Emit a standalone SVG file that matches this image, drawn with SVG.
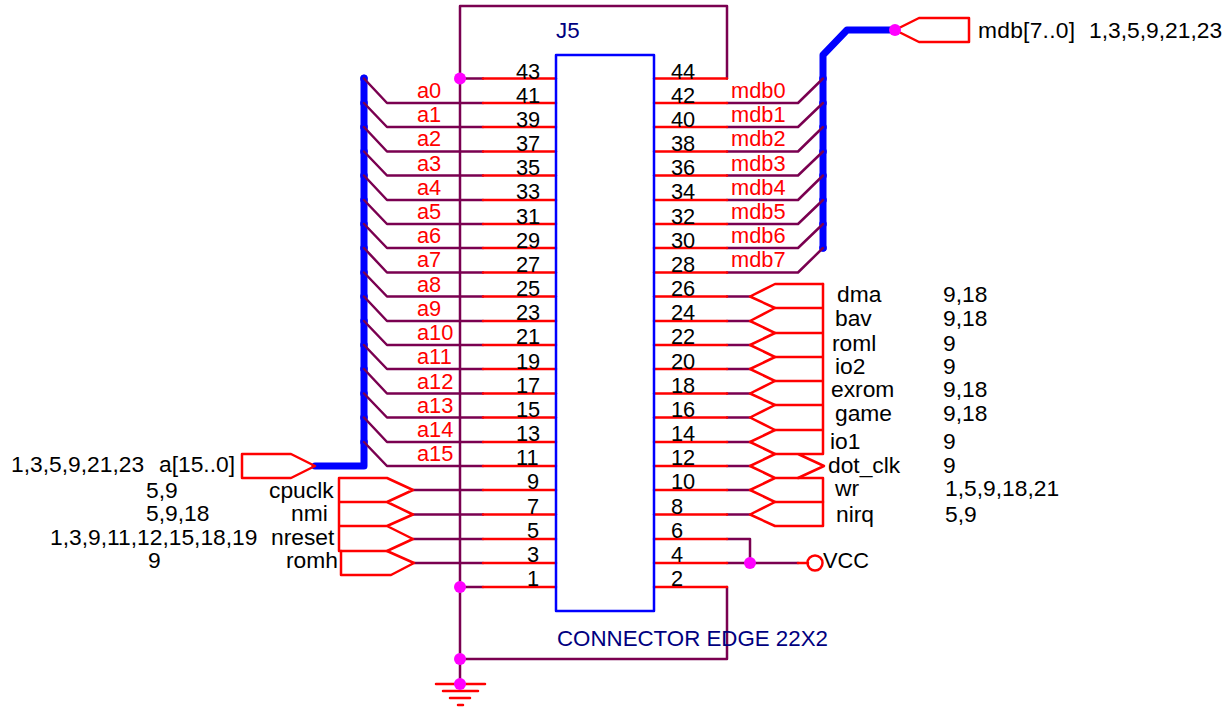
<svg xmlns="http://www.w3.org/2000/svg" width="1225" height="719" viewBox="0 0 1225 719">
<style>
text{font-family:"Liberation Sans",Arial,sans-serif;font-size:22.800px;fill:#000}
.p{font-size:21.800px}
.r{fill:#f00;font-size:21.800px}.n{fill:#000080;font-size:22.300px}
.v{font-size:21.800px}
.w,.re,.b,.bus,.tap{fill:none;stroke-linecap:round;stroke-linejoin:round}
.w{stroke:#7a0050;stroke-width:2.500}
.re{stroke:#f00;stroke-width:2.500}
.b{stroke:#00f;stroke-width:2.500;stroke-linecap:square}
.bus{stroke:#00f;stroke-width:7}
.tap{stroke:#00f;stroke-width:7.600}
.d{fill:#f0f}
</style>
<rect width="1225" height="719" fill="#fff"/>
<g id="connectors">
<path class="bus" d="M364 78V466H315"/>
<path class="bus" d="M823 248V55L847 30H895"/>
<path class="tap" d="M364 78.500h0M364 103h0M364 127h0M364 151.500h0M364 175.500h0M364 200h0M364 224h0M364 248h0M364 272.500h0M364 296.500h0M364 321h0M364 345h0M364 369h0M364 393.500h0M364 417.500h0M364 442h0M823 78.500h0M823 103h0M823 127h0M823 151.500h0M823 175.500h0M823 200h0M823 224h0M823 248h0"/>
<path class="w" d="M460 6H727V78.500M460 6V684M460 78.500H483M460 587H483M727 587V659H460M727 539H750V563M727 563H798"/>
<path class="w" d="M364 78.500L387 103H483M364 103L387 127H483M364 127L387 151.500H483M364 151.500L387 175.500H483M364 175.500L387 200H483M364 200L387 224H483M364 224L387 248H483M364 248L387 272.500H483M364 272.500L387 296.500H483M364 296.500L387 321H483M364 321L387 345H483M364 345L387 369H483M364 369L387 393.500H483M364 393.500L387 417.500H483M364 417.500L387 442H483M364 442L387 466H483"/>
<path class="w" d="M413 490H483M413 514.500H483M413 539H483M414 563H483"/>
<path class="w" d="M823 78.500L798 103H727M823 103L798 127H727M823 127L798 151.500H727M823 151.500L798 175.500H727M823 175.500L798 200H727M823 200L798 224H727M823 224L798 248H727M823 248L798 272.500H727"/>
<path class="w" d="M727 296.500H750M727 321H750M727 345H750M727 369H750M727 393.500H750M727 417.500H750M727 442H750M727 466H750M727 490H750M727 514.500H750"/>
<path class="re" d="M483 78.500H556M483 103H556M483 127H556M483 151.500H556M483 175.500H556M483 200H556M483 224H556M483 248H556M483 272.500H556M483 296.500H556M483 321H556M483 345H556M483 369H556M483 393.500H556M483 417.500H556M483 442H556M483 466H556M483 490H556M483 514.500H556M483 539H556M483 563H556M483 587H556"/>
<path class="re" d="M654 78.500H727M654 103H727M654 127H727M654 151.500H727M654 175.500H727M654 200H727M654 224H727M654 248H727M654 272.500H727M654 296.500H727M654 321H727M654 345H727M654 369H727M654 393.500H727M654 417.500H727M654 442H727M654 466H727M654 490H727M654 514.500H727M654 539H727M654 563H727M654 587H727"/>
<path class="re" d="M798 563H808"/>
</g>
<g id="J5">
<rect class="b" x="556" y="55" width="98" height="556"/>
<text class="n" x="556" y="38">J5</text>
<text class="n" x="557" y="646">CONNECTOR EDGE 22X2</text>
<g class="pins">
<text class="p" x="516" y="79">43</text><text class="p" x="516" y="103">41</text><text class="p" x="516" y="127">39</text><text class="p" x="516" y="151">37</text><text class="p" x="516" y="175">35</text><text class="p" x="516" y="199">33</text><text class="p" x="516" y="224">31</text><text class="p" x="516" y="248">29</text><text class="p" x="516" y="272">27</text><text class="p" x="516" y="296">25</text><text class="p" x="516" y="320">23</text><text class="p" x="516" y="344">21</text><text class="p" x="516" y="369">19</text><text class="p" x="516" y="393">17</text><text class="p" x="516" y="417">15</text><text class="p" x="516" y="441">13</text><text class="p" x="516" y="465">11</text><text class="p" x="527" y="489">9</text><text class="p" x="527" y="514">7</text><text class="p" x="527" y="538">5</text><text class="p" x="527" y="562">3</text><text class="p" x="527" y="586">1</text>
<text class="p" x="671" y="79">44</text><text class="p" x="671" y="103">42</text><text class="p" x="671" y="127">40</text><text class="p" x="671" y="151">38</text><text class="p" x="671" y="175">36</text><text class="p" x="671" y="199">34</text><text class="p" x="671" y="224">32</text><text class="p" x="671" y="248">30</text><text class="p" x="671" y="272">28</text><text class="p" x="671" y="296">26</text><text class="p" x="671" y="320">24</text><text class="p" x="671" y="344">22</text><text class="p" x="671" y="369">20</text><text class="p" x="671" y="393">18</text><text class="p" x="671" y="417">16</text><text class="p" x="671" y="441">14</text><text class="p" x="671" y="465">12</text><text class="p" x="671" y="489">10</text><text class="p" x="671" y="514">8</text><text class="p" x="671" y="538">6</text><text class="p" x="671" y="562">4</text><text class="p" x="671" y="586">2</text>
</g>
</g>
<g id="net-labels">
<text class="r" x="417" y="98">a0</text><text class="r" x="417" y="122">a1</text><text class="r" x="417" y="146">a2</text><text class="r" x="417" y="171">a3</text><text class="r" x="417" y="195">a4</text><text class="r" x="417" y="219">a5</text><text class="r" x="417" y="243">a6</text><text class="r" x="417" y="267">a7</text><text class="r" x="417" y="292">a8</text><text class="r" x="417" y="316">a9</text><text class="r" x="417" y="340">a10</text><text class="r" x="417" y="364">a11</text><text class="r" x="417" y="389">a12</text><text class="r" x="417" y="413">a13</text><text class="r" x="417" y="437">a14</text><text class="r" x="417" y="461">a15</text>
<text class="r" x="731" y="98">mdb0</text><text class="r" x="731" y="122">mdb1</text><text class="r" x="731" y="146">mdb2</text><text class="r" x="731" y="171">mdb3</text><text class="r" x="731" y="195">mdb4</text><text class="r" x="731" y="219">mdb5</text><text class="r" x="731" y="243">mdb6</text><text class="r" x="731" y="267">mdb7</text>
</g>
<g id="port-a">
<path class="re" d="M242 454H291L315 466L291 478H242Z"/>
<text x="11" y="472">1,3,5,9,21,23</text><text x="159" y="472">a[15..0]</text>
</g>
<g id="port-mdb">
<path class="re" d="M895 30L919 18H969V42H919Z"/>
<text x="978" y="38" textLength="97">mdb[7..0]</text><text x="1089" y="38">1,3,5,9,21,23</text>
</g>
<g id="ports-left">
<path class="re" d="M387 502L339 502M387 526H339M339 478V551M339 478H387L413 490L387 502L413 514.500L387 526L413 539L387 551H339"/>
<path class="re" d="M387 551L414 563L391 575H341V551"/>
<text x="269" y="498">cpuclk</text><text x="146" y="498">5,9</text>
<text x="291" y="521">nmi</text><text x="146" y="521">5,9,18</text>
<text x="271" y="545">nreset</text><text x="50" y="545">1,3,9,11,12,15,18,19</text>
<text x="286" y="568">romh</text><text x="148" y="568">9</text>
</g>
<g id="ports-right">
<path class="re" d="M823 284H775L750 296.500L775 308L750 321L775 333L750 345L775 357L750 369L775 381L750 393.500L775 405L750 417.500L775 430L750 442L775 454L750 466L775 478L750 490L775 502L750 514.500L775 526H823V478H775"/>
<path class="re" d="M823 284V454H775M775 308H823M775 333H823M775 357H823M775 381H823M775 405H823M775 430H823M775 502H823M798 454L824 466L798 478"/>
<text x="837" y="302">dma</text><text x="943" y="302">9,18</text>
<text x="835" y="326">bav</text><text x="943" y="326">9,18</text>
<text x="832" y="351">roml</text><text x="943" y="351">9</text>
<text x="835" y="374">io2</text><text x="943" y="374">9</text>
<text x="831" y="397">exrom</text><text x="943" y="397">9,18</text>
<text x="835" y="421">game</text><text x="943" y="421">9,18</text>
<text x="830" y="449">io1</text><text x="943" y="449">9</text>
<text x="828" y="473">dot_clk</text><text x="943" y="473">9</text>
<text x="835" y="496">wr</text><text x="945" y="496">1,5,9,18,21</text>
<text x="836" y="522">nirq</text><text x="945" y="522">5,9</text>
</g>
<g id="vcc">
<circle cx="815" cy="563" r="7.500" fill="none" stroke="#f00" stroke-width="2.500"/>
<text class="v" x="823" y="568">VCC</text>
</g>
<g id="ground">
<path class="re" d="M436 684H485M443 691H478M450 698H470M458 705H463"/>
</g>
<g id="junctions">
<circle class="d" cx="460" cy="78.500" r="6"/><circle class="d" cx="895" cy="30" r="6"/><circle class="d" cx="750" cy="563" r="6"/><circle class="d" cx="460" cy="587" r="6"/><circle class="d" cx="460" cy="659" r="6"/><circle class="d" cx="460" cy="684" r="6"/>
</g>
</svg>
